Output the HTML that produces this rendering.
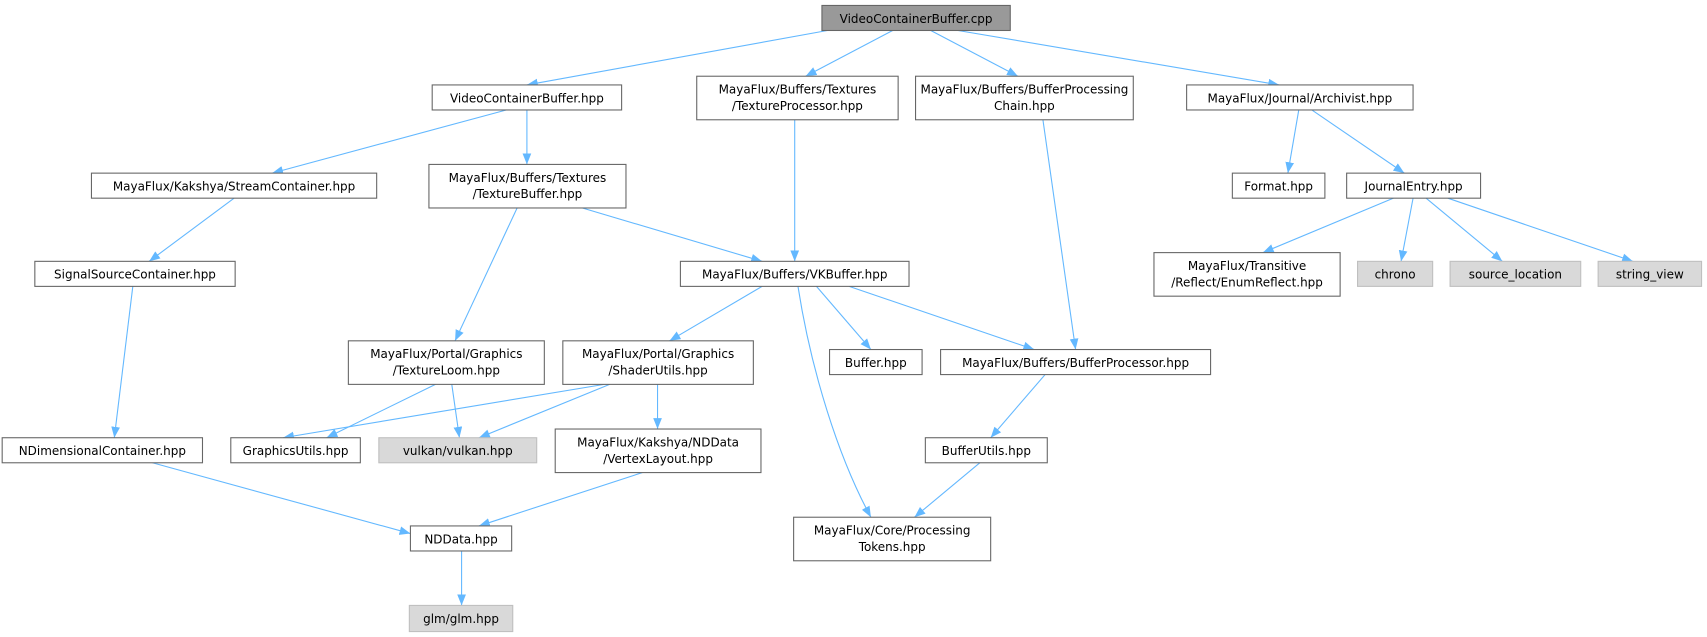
<!DOCTYPE html>
<html><head><meta charset="utf-8"><style>
html,body{margin:0;padding:0;background:#fff;}
svg{display:block;}
text{font-family:"DejaVu Sans","Liberation Sans",sans-serif;font-size:11px;fill:#000;text-anchor:middle;}
.n{fill:#fff;stroke:#666;stroke-width:1;}
.g{fill:#d9d9d9;stroke:#bfbfbf;stroke-width:1;}
.r{fill:#999;stroke:#666;stroke-width:1;}
.e{stroke:#63b8ff;stroke-width:1;fill:none;marker-end:url(#a);}
</style></head><body>
<svg width="1707" height="637" viewBox="0 0 1568 585" preserveAspectRatio="none">
<defs><marker id="a" markerUnits="userSpaceOnUse" markerWidth="12" markerHeight="10" refX="10" refY="4" orient="auto"><path d="M0,0 L10,4 L0,8 z" fill="#63b8ff"/></marker></defs>
<g>
<path class="e" d="M760,28 L484,78"/>
<path class="e" d="M820,28 L740,70"/>
<path class="e" d="M855,28 L935,70"/>
<path class="e" d="M880,28 L1175,78"/>
<path class="e" d="M465,101 L250,159"/>
<path class="e" d="M484,101 L484,151"/>
<path class="e" d="M730,110 L730,240"/>
<path class="e" d="M958,110 L988,321"/>
<path class="e" d="M1193,101 L1183,159"/>
<path class="e" d="M1205,101 L1290,159"/>
<path class="e" d="M215,182 L137,240"/>
<path class="e" d="M535,191 L700,240"/>
<path class="e" d="M475,191 L418,313"/>
<path class="e" d="M1280,182 L1160,232"/>
<path class="e" d="M1298,182 L1287,240"/>
<path class="e" d="M1310,182 L1380,240"/>
<path class="e" d="M1330,182 L1500,240"/>
<path class="e" d="M122,263 L105,402"/>
<path class="e" d="M700,263 L615,313"/>
<path class="e" d="M750,263 L800,321"/>
<path class="e" d="M780,263 L950,321"/>
<path class="e" d="M733,263 C745,340 770,420 800,475"/>
<path class="e" d="M400,353 L300,402"/>
<path class="e" d="M415,353 L422,402"/>
<path class="e" d="M555,353 L260,402"/>
<path class="e" d="M560,353 L440,402"/>
<path class="e" d="M604,353 L604,394"/>
<path class="e" d="M960,344 L910,402"/>
<path class="e" d="M140,425 L377,490"/>
<path class="e" d="M590,434 L440,483"/>
<path class="e" d="M900,425 L840,475"/>
<path class="e" d="M424,506 L424,556"/>
</g>
<g>
<rect class="r" x="755" y="5" width="173" height="23"/><text x="841.5" y="21">VideoContainerBuffer.cpp</text>
<rect class="n" x="397" y="78" width="174" height="23"/><text x="484" y="94">VideoContainerBuffer.hpp</text>
<rect class="n" x="640" y="70" width="185" height="40"/><text x="732.5" y="86">MayaFlux/Buffers/Textures</text><text x="732.5" y="101">/TextureProcessor.hpp</text>
<rect class="n" x="841" y="70" width="200" height="40"/><text x="941" y="86">MayaFlux/Buffers/BufferProcessing</text><text x="941" y="101">Chain.hpp</text>
<rect class="n" x="1090" y="78" width="208" height="23"/><text x="1194" y="94">MayaFlux/Journal/Archivist.hpp</text>
<rect class="n" x="84" y="159" width="262" height="23"/><text x="215" y="175">MayaFlux/Kakshya/StreamContainer.hpp</text>
<rect class="n" x="394" y="151" width="181" height="40"/><text x="484.5" y="167">MayaFlux/Buffers/Textures</text><text x="484.5" y="182">/TextureBuffer.hpp</text>
<rect class="n" x="1132" y="159" width="85" height="23"/><text x="1174.5" y="175">Format.hpp</text>
<rect class="n" x="1237" y="159" width="123" height="23"/><text x="1298.5" y="175">JournalEntry.hpp</text>
<rect class="n" x="32" y="240" width="184" height="23"/><text x="124" y="256">SignalSourceContainer.hpp</text>
<rect class="n" x="625" y="240" width="210" height="23"/><text x="730" y="256">MayaFlux/Buffers/VKBuffer.hpp</text>
<rect class="n" x="1060" y="232" width="171" height="40"/><text x="1145.5" y="248">MayaFlux/Transitive</text><text x="1145.5" y="263">/Reflect/EnumReflect.hpp</text>
<rect class="g" x="1247" y="240" width="69" height="23"/><text x="1281.5" y="256">chrono</text>
<rect class="g" x="1332" y="240" width="120" height="23"/><text x="1392" y="256">source_location</text>
<rect class="g" x="1468" y="240" width="95" height="23"/><text x="1515.5" y="256">string_view</text>
<rect class="n" x="320" y="313" width="180" height="40"/><text x="410" y="329">MayaFlux/Portal/Graphics</text><text x="410" y="344">/TextureLoom.hpp</text>
<rect class="n" x="517" y="313" width="175" height="40"/><text x="604.5" y="329">MayaFlux/Portal/Graphics</text><text x="604.5" y="344">/ShaderUtils.hpp</text>
<rect class="n" x="762" y="321" width="85" height="23"/><text x="804.5" y="337">Buffer.hpp</text>
<rect class="n" x="864" y="321" width="248" height="23"/><text x="988" y="337">MayaFlux/Buffers/BufferProcessor.hpp</text>
<rect class="n" x="2" y="402" width="184" height="23"/><text x="94" y="418">NDimensionalContainer.hpp</text>
<rect class="n" x="212" y="402" width="119" height="23"/><text x="271.5" y="418">GraphicsUtils.hpp</text>
<rect class="g" x="348" y="402" width="145" height="23"/><text x="420.5" y="418">vulkan/vulkan.hpp</text>
<rect class="n" x="510" y="394" width="189" height="40"/><text x="604.5" y="410">MayaFlux/Kakshya/NDData</text><text x="604.5" y="425">/VertexLayout.hpp</text>
<rect class="n" x="850" y="402" width="112" height="23"/><text x="906" y="418">BufferUtils.hpp</text>
<rect class="n" x="377" y="483" width="93" height="23"/><text x="423.5" y="499">NDData.hpp</text>
<rect class="n" x="729" y="475" width="181" height="40"/><text x="819.5" y="491">MayaFlux/Core/Processing</text><text x="819.5" y="506">Tokens.hpp</text>
<rect class="g" x="376" y="556" width="95" height="24"/><text x="423.5" y="572">glm/glm.hpp</text>
</g>
</svg>
</body></html>
